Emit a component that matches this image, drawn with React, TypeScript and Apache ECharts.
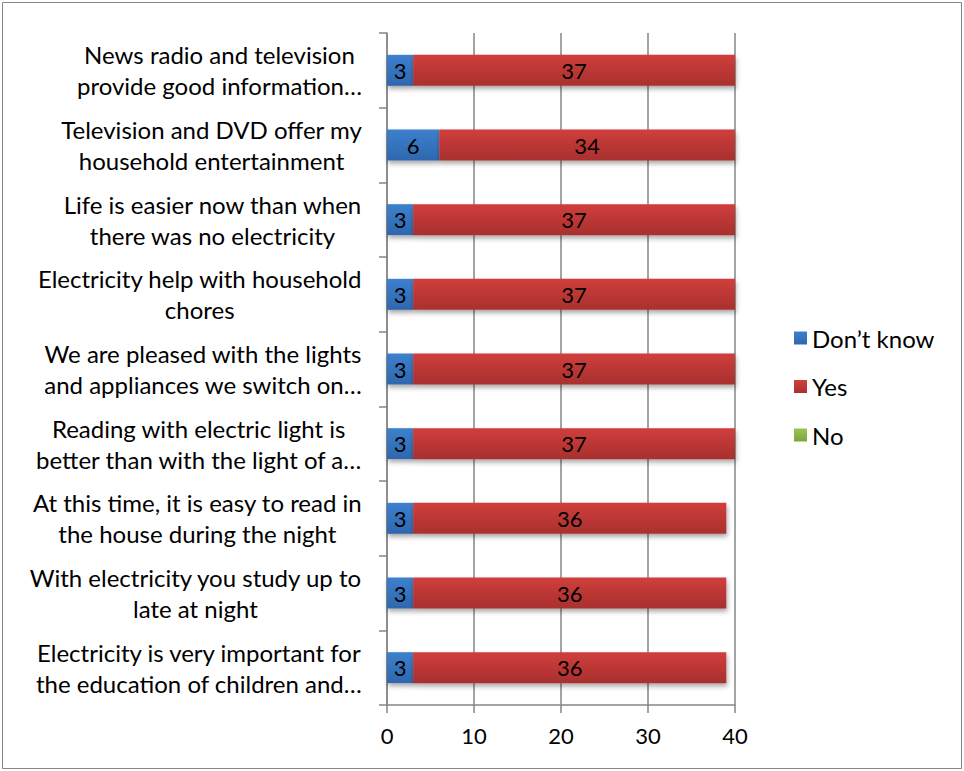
import React, { useEffect, useRef } from "react";
import * as echarts from "echarts";

const categories = [
  "News radio and television\nprovide good information…",
  "Television and DVD offer my\nhousehold entertainment",
  "Life is easier now than when\nthere was no electricity",
  "Electricity help with household\nchores",
  "We are pleased with the lights\nand appliances we switch on…",
  "Reading with electric light is\nbetter than with the light of a…",
  "At this time, it is easy to read in\nthe house during the night",
  "With electricity you study up to\nlate at night",
  "Electricity is very important for\nthe education of children and…",
];

const dontKnow = [3, 6, 3, 3, 3, 3, 3, 3, 3];
const yes = [37, 34, 37, 37, 37, 37, 36, 36, 36];
const no = [0, 0, 0, 0, 0, 0, 0, 0, 0];

const xTicks = { min: 0, max: 40, interval: 10 };

const FONT = "Lato, 'Noto Sans', sans-serif";

const grad = (top: string, bottom: string) =>
  new echarts.graphic.LinearGradient(0, 0, 0, 1, [
    { offset: 0, color: top },
    { offset: 1, color: bottom },
  ]);

export default function App() {
  const ref = useRef<HTMLDivElement>(null);

  useEffect(() => {
    if (!ref.current) return;
    const chart = echarts.init(ref.current, undefined, { renderer: "svg" });
    const barShadow = {
      shadowColor: "rgba(0,0,0,0.35)",
      shadowBlur: 5,
      shadowOffsetY: 3,
      shadowOffsetX: 1,
    };
    const label = {
      show: true,
      position: "inside" as const,
      color: "#000",
      fontFamily: FONT,
      fontSize: 22,
      formatter: (p: any) => (p.value ? String(p.value) : ""),
    };
    chart.setOption({
      animation: false,
      backgroundColor: "#fff",
      graphic: [
        {
          type: "rect",
          shape: { x: 2.5, y: 2.5, width: 959, height: 766 },
          style: { fill: "none", stroke: "#868686", lineWidth: 1 },
          silent: true,
        },
      ],
      legend: {
        orient: "vertical",
        left: 789,
        top: 321,
        itemWidth: 13,
        itemHeight: 13,
        itemGap: 24.5,
        icon: "rect",
        textStyle: { fontFamily: FONT, fontSize: 24, lineHeight: 24, color: "#000" },
        data: ["Don\u2019t know", "Yes", "No"],
      },
      grid: { left: 387, right: 229, top: 33, bottom: 66, containLabel: false },
      xAxis: {
        type: "value",
        min: xTicks.min,
        max: xTicks.max,
        interval: xTicks.interval,
        axisLine: { show: true, lineStyle: { color: "#868686", width: 1.5 } },
        axisTick: { show: true, length: 8, lineStyle: { color: "#868686", width: 1.5 } },
        splitLine: { show: true, lineStyle: { color: "#868686", width: 1.5 } },
        axisLabel: { color: "#000", fontFamily: FONT, fontSize: 22, margin: 19 },
      },
      yAxis: {
        type: "category",
        inverse: true,
        data: categories,
        axisLine: { show: true, lineStyle: { color: "#868686", width: 1.5 } },
        axisTick: { show: true, length: 8, alignWithLabel: false, lineStyle: { color: "#868686", width: 1.5 } },
        axisLabel: {
          color: "#000",
          fontFamily: FONT,
          fontSize: 24,
          lineHeight: 31,
          margin: 25,
          align: "right",
          formatter: (v: string) =>
            v
              .split("\n")
              .map((line) => `{c|${line}}`)
              .join("\n"),
          rich: {
            c: {
              align: "center",
              fontFamily: FONT,
              fontSize: 24,
              lineHeight: 31,
              color: "#000",
            },
          },
        },
      },
      series: [
        {
          name: "Don\u2019t know",
          type: "bar",
          stack: "total",
          barWidth: "41.5%",
          data: dontKnow,
          itemStyle: { color: grad("#3D80CE", "#2E67AE"), ...barShadow },
          label,
        },
        {
          name: "Yes",
          type: "bar",
          stack: "total",
          barWidth: "41.5%",
          data: yes,
          itemStyle: { color: grad("#D03E3C", "#A8302E"), ...barShadow },
          label,
        },
        {
          name: "No",
          type: "bar",
          stack: "total",
          barWidth: "41.5%",
          data: no,
          itemStyle: { color: grad("#9CC453", "#7FA43F") },
          label,
        },
      ],
    });
    return () => chart.dispose();
  }, []);

  return (
    <div
      ref={ref}
      style={{ position: "absolute", left: 0, top: 0, width: 964, height: 771 }}
    />
  );
}
